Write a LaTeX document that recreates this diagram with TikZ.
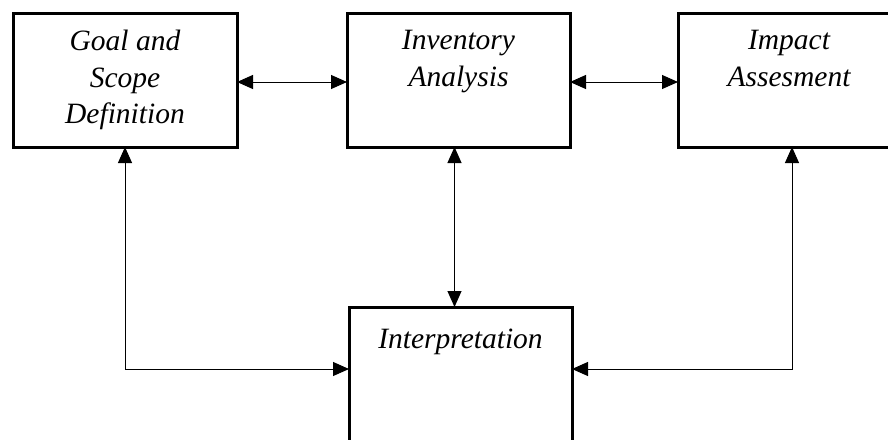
\documentclass[tikz,border=0pt]{standalone}
\usepackage{fontspec}
\setmainfont{Liberation Serif}
\usetikzlibrary{arrows.meta}
\begin{document}
\begin{tikzpicture}[x=1pt,y=-1pt,
  box/.style={draw=black, line width=3pt, inner sep=0pt, outer sep=0pt, anchor=north west, minimum height=134pt},
  boxtext/.style={anchor=north, align=center, inner sep=0pt, font=\itshape\fontsize{29.5}{36.5}\selectfont, execute at begin node=\strut},
  conn/.style={draw=black, line width=1pt, {Triangle[length=16pt,width=14pt]}-{Triangle[length=16pt,width=14pt]}}]
\clip (0,0) rectangle (888,439);
\fill[white] (0,0) rectangle (888,439);
\node[box, minimum width=224pt] (goal) at (13,13) {};
\node[box, minimum width=223pt] (inv) at (347,13) {};
\node[box, minimum width=222pt] (imp) at (678,13) {};
\node[box, minimum width=223pt, minimum height=200pt] (interp) at (349,307) {};
\node[boxtext] (goaltxt) at ([yshift=-17pt]goal.north) {Goal and\\Scope\\Definition};
\node[boxtext] (invtxt) at ([yshift=-17pt]inv.north) {Inventory\\Analysis};
\node[boxtext] (imptxt) at ([yshift=-17pt]imp.north) {Impact\\Assesment};
\node[boxtext] (interptxt) at ([yshift=-15.5pt]interp.north) {Interpretation};
\coordinate (gl) at ([yshift=-62pt]interp.north west);
\coordinate (gr) at ([yshift=-62pt]interp.north east);
\draw[conn] ([yshift=-2pt]goal.east) -- ([yshift=-2pt]inv.west);
\draw[conn] ([yshift=-2pt]inv.east) -- ([yshift=-2pt]imp.west);
\draw[conn] ([xshift=-4pt]inv.south) -- ([xshift=-4pt]inv.south |- interp.north);
\draw[conn] (goal.south) |- (gl);
\draw[conn] ([xshift=3pt]imp.south) |- (gr);
\end{tikzpicture}
\end{document}
